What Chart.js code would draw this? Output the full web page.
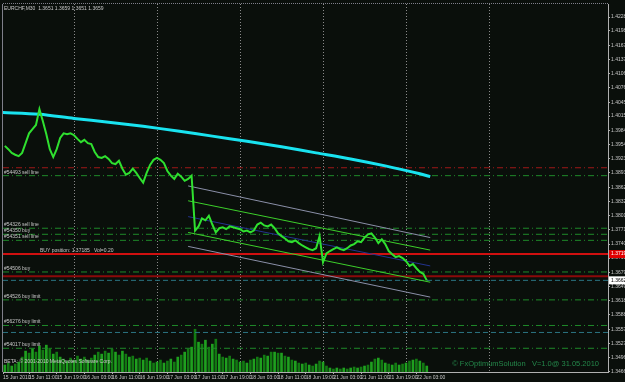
<!DOCTYPE html>
<html>
<head>
<meta charset="utf-8">
<script src="https://cdn.jsdelivr.net/npm/chart.js@4.4.1/dist/chart.umd.min.js"></script>
<style>
  html, body { margin: 0; padding: 0; background: #0a0f0b; }
  canvas { display: block; }
</style>
</head>
<body>
<canvas id="chart" width="625" height="382"></canvas>
<script>
// time is in hours from 16 Jun 2010 00:00, weekend left out (21 Jun 00:00 = 72)
const timeMin = -20.53;
const timeMax = 154.4;
const firstHour = -20;

// hourly closes, EURCHF
const closes = [
  1.3951, 1.3944, 1.3936, 1.3932, 1.3929, 1.3936, 1.3957, 1.3978, 1.3987, 1.3996,
  1.4030, 1.4004, 1.3976, 1.3944, 1.3927, 1.3944, 1.3968, 1.3978, 1.3976, 1.3978,
  1.3974, 1.3966, 1.3959, 1.3964, 1.3957, 1.3955, 1.3938, 1.3927, 1.3925, 1.3929,
  1.3923, 1.3914, 1.3912, 1.3919, 1.3902, 1.3889, 1.3893, 1.3902, 1.3893, 1.3882,
  1.3872, 1.3893, 1.3910, 1.3921, 1.3925, 1.3921, 1.3914, 1.3897, 1.3887, 1.3880,
  1.3891, 1.3885, 1.3876, 1.3880, 1.3887, 1.3769, 1.3778, 1.3795, 1.3791, 1.3801,
  1.3782, 1.3765, 1.3774, 1.3776, 1.3772, 1.3778, 1.3776, 1.3774, 1.3772, 1.3767,
  1.3769, 1.3765, 1.3769, 1.3782, 1.3786, 1.3780, 1.3778, 1.3782, 1.3774, 1.3763,
  1.3757, 1.3752, 1.3746, 1.3744, 1.3748, 1.3742, 1.3737, 1.3733, 1.3729, 1.3727,
  1.3731, 1.3757, 1.3701, 1.3720, 1.3725, 1.3729, 1.3733, 1.3729, 1.3727, 1.3731,
  1.3737, 1.3740, 1.3746, 1.3744, 1.3754, 1.3761, 1.3763, 1.3754, 1.3742, 1.3750,
  1.3740, 1.3725, 1.3718, 1.3712, 1.3714, 1.3710, 1.3703, 1.3693, 1.3697, 1.3688,
  1.3680, 1.3676, 1.3662
];

// hourly tick volume
const volumes = [
  70, 90, 60, 80, 100, 150, 210, 190, 230, 200,
  260, 220, 270, 240, 180, 200, 150, 130, 110, 140,
  120, 160, 130, 150, 120, 140, 170, 200, 180, 210,
  190, 230, 200, 170, 210, 180, 150, 160, 130, 140,
  120, 140, 110, 90, 100, 120, 90, 110, 130, 100,
  150, 170, 200, 230, 250, 430, 300, 280, 320, 250,
  280, 330, 180, 150, 140, 160, 130, 120, 100, 110,
  90, 120, 130, 150, 140, 170, 160, 200, 200, 190,
  190, 160, 150, 120, 110, 90, 80, 90, 70, 60,
  80, 110, 100, 60, 40, 30, 40, 30, 40, 30,
  40, 50, 40, 50, 60, 70, 100, 130, 140, 120,
  90, 80, 70, 90, 70, 80, 90, 110, 120, 130,
  110, 90, 60
];

// moving average
const maHours = [-21, -10, 0, 10, 20, 30, 40, 50, 60, 70, 80, 90, 100, 103];
const maValues = [1.4023, 1.4019, 1.4010, 1.4002, 1.3993, 1.3983, 1.3972, 1.3961, 1.3949, 1.3936, 1.3923, 1.3908, 1.3891, 1.3885];

// regression channel, start and end
const channelHours = [33, 103];
const channelOuterTop = [1.3865, 1.3754];
const channelTop = [1.3833, 1.3727];
const channelMid = [1.3799, 1.3693];
const channelBottom = [1.3765, 1.3658];
const channelOuterBottom = [1.3735, 1.3626];

// order lines
const orderPrices = [1.3887, 1.3774, 1.3761, 1.3748, 1.3680, 1.3620, 1.3565, 1.3516];
const orderNames = ['#54493 sell line', '#54326 sell line', '#54350 buy', '#54351 sell line',
  '#54506 buy', '#54526 buy limit', '#56276 buy limit', '#54017 buy limit'];
const redLevel = 1.3904;
const buyPrice = 1.37185;
const buyText = 'BUY position: 1.37185   Vol=0.20';
const darkRedLevel = 1.3671;
const tealLevels = [1.3662, 1.3550];

const headerText = 'EURCHF,M30  1.3651 1.3659 1.3651 1.3659';

// axes
const yTicks = [1.4228, 1.4198, 1.4167, 1.4137, 1.4106, 1.4076, 1.4045, 1.4015, 1.3984, 1.3954,
  1.3923, 1.3893, 1.3862, 1.3832, 1.3801, 1.3771, 1.3740, 1.3710, 1.3679, 1.3649,
  1.3618, 1.3588, 1.3557, 1.3527, 1.3496, 1.3466];
const xLabelHours = [-20.53, -13, -5, 3, 11, 19, 27, 35, 43, 51, 59, 67, 75, 83, 91, 99];
const xLabels = ['15 Jun 2010', '15 Jun 11:00', '15 Jun 19:00', '16 Jun 03:00', '16 Jun 11:00',
  '16 Jun 19:00', '17 Jun 03:00', '17 Jun 11:00', '17 Jun 19:00', '18 Jun 03:00', '18 Jun 11:00',
  '18 Jun 19:00', '21 Jun 03:00', '21 Jun 11:00', '21 Jun 19:00', '22 Jun 03:00'];
const dayHours = [0, 24, 48, 72, 96, 120];

const smallFont = "'Liberation Sans Narrow', 'Liberation Sans', sans-serif";
const textColor = '#c8c8c8';

function levelLine(price, color, width, dash) {
  return {
    type: 'line',
    data: [{ x: timeMin, y: price }, { x: timeMax, y: price }],
    borderColor: color,
    borderWidth: width,
    borderDash: dash,
    pointRadius: 0,
    order: 3
  };
}

function channelLine(values, color) {
  return {
    type: 'line',
    data: channelHours.map((h, i) => ({ x: h, y: values[i] })),
    borderColor: color,
    borderWidth: 1,
    pointRadius: 0,
    order: 2
  };
}

const datasets = [
  {
    type: 'line',
    data: closes.map((c, i) => ({ x: firstHour + i, y: c })),
    borderColor: '#2fe02f',
    borderWidth: 2,
    pointRadius: 0,
    tension: 0,
    order: 0
  },
  {
    type: 'line',
    data: maHours.map((h, i) => ({ x: h, y: maValues[i] })),
    borderColor: '#19e3f0',
    borderWidth: 3,
    pointRadius: 0,
    tension: 0.3,
    order: 1
  },
  channelLine(channelOuterTop, '#8a8fa8'),
  channelLine(channelTop, '#3ccf2a'),
  channelLine(channelMid, '#23338f'),
  channelLine(channelBottom, '#3ccf2a'),
  channelLine(channelOuterBottom, '#8a8fa8'),
  levelLine(redLevel, '#a01818', 1, [6, 3, 1, 3]),
  ...orderPrices.map(p => levelLine(p, '#1f8a2a', 1, [6, 3, 1, 3])),
  levelLine(buyPrice, '#d01010', 2, []),
  levelLine(darkRedLevel, '#8b0a0a', 2, []),
  ...tealLevels.map(p => levelLine(p, '#2b7482', 1, [5, 3])),
  {
    type: 'bar',
    yAxisID: 'yv',
    data: volumes.map((v, i) => ({ x: firstHour + i, y: v })),
    backgroundColor: volumes.map((v, i) => i % 2 ? '#127a12' : '#1fa01f'),
    barThickness: 2,
    order: 5
  }
];

const overlay = {
  id: 'overlay',
  beforeDraw(chart) {
    const ctx = chart.ctx;
    ctx.save();
    ctx.fillStyle = '#0a0f0b';
    ctx.fillRect(0, 0, chart.width, chart.height);
    ctx.restore();
  },
  afterDraw(chart) {
    const ctx = chart.ctx;
    const area = chart.chartArea;
    const y = chart.scales.y;
    ctx.save();

    // frame, top and left
    ctx.strokeStyle = '#7f7f8a';
    ctx.lineWidth = 1;
    ctx.setLineDash([1, 1]);
    ctx.beginPath();
    ctx.moveTo(area.left, area.top - 0.5);
    ctx.lineTo(area.right, area.top - 0.5);
    ctx.stroke();
    ctx.setLineDash([]);
    ctx.beginPath();
    ctx.moveTo(area.left - 0.5, area.top);
    ctx.lineTo(area.left - 0.5, area.bottom);
    ctx.stroke();

    ctx.font = '5px ' + smallFont;
    ctx.fillStyle = textColor;
    ctx.textBaseline = 'top';
    ctx.textAlign = 'left';
    ctx.fillText(headerText, area.left + 1, area.top + 2);

    // order labels
    ctx.textBaseline = 'bottom';
    orderPrices.forEach((p, i) => {
      ctx.fillText(orderNames[i], area.left + 1, y.getPixelForValue(p) - 1);
    });
    ctx.fillText(buyText, area.left + 37, y.getPixelForValue(buyPrice) - 1);

    ctx.fillText('BETA: \u00a9 2001-2010 MetaQuotes Software Corp.', area.left + 1, area.bottom - 8);

    ctx.font = '7.5px ' + "'Liberation Sans', sans-serif";
    ctx.fillStyle = '#24874a';
    ctx.textAlign = 'right';
    ctx.textBaseline = 'middle';
    ctx.fillText('\u00a9 FxOptimumSolution   V=1.0@ 31.05.2010', area.right - 9, 364);

    // price boxes on the axis
    const boxes = [
      { value: buyPrice, bg: '#e00000', fg: '#ffffff' },
      { value: closes[closes.length - 1], bg: '#ffffff', fg: '#000000' }
    ];
    ctx.font = '5px ' + smallFont;
    ctx.textAlign = 'left';
    boxes.forEach(b => {
      const py = y.getPixelForValue(b.value);
      ctx.fillStyle = b.bg;
      ctx.fillRect(area.right + 1, py - 4, chart.width - area.right - 1, 8);
      ctx.fillStyle = b.fg;
      ctx.fillText(b.value.toFixed(4), area.right + 3, py);
    });
    ctx.restore();
  }
};

new Chart(document.getElementById('chart').getContext('2d'), {
  type: 'line',
  data: { datasets: datasets },
  plugins: [overlay],
  options: {
    responsive: false,
    animation: false,
    events: [],
    layout: { padding: { top: 2, left: 3, right: 0, bottom: 0 } },
    plugins: { legend: { display: false }, tooltip: { enabled: false } },
    scales: {
      x: {
        type: 'linear',
        min: timeMin,
        max: timeMax,
        offset: false,
        afterBuildTicks: s => {
          s.ticks = xLabelHours.concat(dayHours).sort((a, b) => a - b).map(v => ({ value: v }));
        },
        afterFit: s => { s.height = 10; },
        ticks: {
          autoSkip: false,
          maxRotation: 0,
          align: 'start',
          padding: 1,
          color: textColor,
          font: { size: 5, family: smallFont },
          callback: v => {
            const i = xLabelHours.indexOf(v);
            return i < 0 ? '' : xLabels[i];
          }
        },
        grid: {
          offset: false,
          color: c => (c.tick && dayHours.includes(c.tick.value)) ? '#8a8a8a' : 'rgba(0,0,0,0)',
          tickColor: c => (c.tick && xLabelHours.includes(c.tick.value)) ? '#b0b0b0' : 'rgba(0,0,0,0)',
          tickLength: 2,
          lineWidth: 1
        },
        border: { color: '#b0b0b0', dash: [1, 2] }
      },
      y: {
        position: 'right',
        min: 1.3465,
        max: 1.4256,
        afterBuildTicks: s => { s.ticks = yTicks.map(v => ({ value: v })); },
        afterFit: s => { s.width = 17; },
        ticks: {
          autoSkip: false,
          padding: 1,
          color: textColor,
          font: { size: 5, family: smallFont },
          callback: v => v.toFixed(4)
        },
        grid: { drawOnChartArea: false, tickLength: 2, tickColor: '#b0b0b0' },
        border: { color: '#b0b0b0' }
      },
      yv: {
        display: false,
        min: 0,
        max: 3700
      }
    }
  }
});
</script>
</body>
</html>
